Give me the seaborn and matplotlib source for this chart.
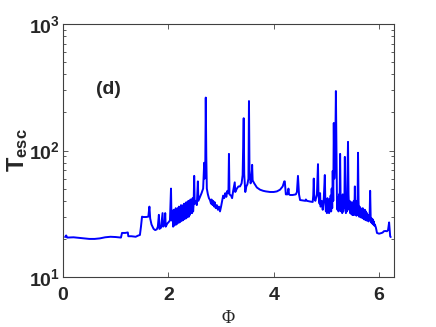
import numpy as np
import pandas as pd
import matplotlib
matplotlib.use('Agg')
import matplotlib.pyplot as plt
from matplotlib.ticker import FixedLocator, FixedFormatter, LogLocator, NullFormatter
import seaborn as sns

# values
phi = [0.04, 0.06, 0.08, 0.20, 0.35, 0.50, 0.60, 0.70, 0.80, 0.90, 1.00, 1.10,
       1.12, 1.18, 1.23, 1.24, 1.30, 1.38, 1.42, 1.46,
       1.48, 1.50, 1.52, 1.58, 1.62, 1.64, 1.655, 1.68, 1.72, 1.75, 1.78, 1.80,
       1.82, 1.83, 1.86, 1.89, 1.90, 1.93, 1.94, 1.95, 1.98, 2.00, 2.03, 2.05, 2.06,
       2.08, 2.09, 2.10, 2.11, 2.12, 2.13, 2.14, 2.15, 2.16, 2.17, 2.18, 2.19,
       2.20, 2.21, 2.22, 2.23, 2.24, 2.25, 2.26, 2.27, 2.28, 2.29, 2.30, 2.31,
       2.32, 2.33, 2.34, 2.35, 2.36, 2.37, 2.38, 2.39, 2.40, 2.41, 2.42, 2.43,
       2.44, 2.45, 2.46, 2.47, 2.48, 2.49, 2.50, 2.52, 2.54, 2.56, 2.57, 2.60,
       2.63, 2.66, 2.68, 2.69, 2.70, 2.71, 2.72, 2.73, 2.75, 2.77, 2.79, 2.81,
       2.82, 2.84, 2.85, 2.87, 2.88, 2.90, 2.92, 2.94, 2.96, 2.98, 3.00, 3.02,
       3.04, 3.06, 3.08, 3.10, 3.12, 3.14, 3.15, 3.16, 3.19, 3.21, 3.23, 3.26,
       3.27, 3.30, 3.33, 3.36, 3.39, 3.41, 3.43, 3.44, 3.46, 3.48, 3.50, 3.52,
       3.53, 3.54, 3.56, 3.58, 3.59, 3.60, 3.63, 3.68, 3.74, 3.80, 3.85, 3.93,
       4.00, 4.06, 4.12, 4.17, 4.20, 4.21, 4.22, 4.23, 4.26, 4.28, 4.29, 4.31,
       4.36, 4.42, 4.44, 4.46, 4.48, 4.50, 4.55, 4.60, 4.61, 4.63, 4.69, 4.74,
       4.75, 4.76, 4.77, 4.79, 4.82, 4.84, 4.85, 4.87, 4.88, 4.89, 4.91, 4.93,
       4.95, 4.97, 4.98, 4.99, 5.00, 5.01, 5.02, 5.03, 5.04, 5.05, 5.06, 5.07,
       5.08, 5.09, 5.10, 5.11, 5.12, 5.13, 5.14, 5.15, 5.17, 5.18, 5.19, 5.20,
       5.21, 5.22, 5.23, 5.24, 5.25, 5.26, 5.27, 5.28, 5.29, 5.30, 5.31, 5.32,
       5.33, 5.34, 5.35, 5.36, 5.37, 5.38, 5.39, 5.40, 5.41, 5.42, 5.43, 5.44,
       5.45, 5.46, 5.47, 5.48, 5.49, 5.50, 5.51, 5.52, 5.53, 5.54, 5.55, 5.56,
       5.57, 5.58, 5.59, 5.60, 5.61, 5.62, 5.63, 5.64, 5.65, 5.66, 5.67, 5.68,
       5.69, 5.70, 5.71, 5.72, 5.73, 5.74, 5.75, 5.76, 5.77, 5.78, 5.79, 5.80,
       5.82, 5.83, 5.84, 5.85, 5.86, 5.87, 5.88, 5.89, 5.90, 5.91, 5.92, 5.94,
       5.96, 6.00, 6.05, 6.07, 6.09, 6.12, 6.15, 6.17, 6.19, 6.20, 6.21, 6.22]

t_esc = [20.7, 21.3, 20.5, 20.6, 20.3, 20.0, 20.0, 20.2, 20.6, 20.8, 20.7, 20.5,
         22.3, 22.3, 22.5, 21.0, 21.0, 20.8, 21.2, 21.5,
         25.0, 30.0, 29.8, 29.8, 30.0, 36.0, 29.0, 26.0, 24.0, 23.5, 23.8, 25.0,
         31.0, 24.0, 24.5, 32.0, 25.0, 26.0, 32.0, 25.0, 26.5, 27.0, 28.0, 50.0, 28.0,
         33.0, 25.0, 34.0, 25.5, 33.0, 26.0, 35.0, 26.0, 34.0, 26.5, 35.0, 27.0,
         36.0, 27.0, 35.0, 27.5, 37.0, 28.0, 36.0, 28.0, 37.0, 28.5, 38.0, 29.0,
         37.0, 29.0, 39.0, 29.5, 38.0, 30.0, 40.0, 30.0, 39.0, 31.0, 41.0, 32.0,
         40.0, 32.0, 42.0, 33.0, 38.0, 63.0, 38.0, 40.0, 37.0, 57.0, 40.0, 43.0,
         46.0, 50.0, 80.0, 60.0, 70.0, 262.0, 90.0, 50.0, 45.0, 42.0, 40.6, 38.0,
         41.0, 37.0, 40.0, 36.0, 39.0, 35.0, 37.0, 34.0, 36.0, 33.0, 36.0, 40.0,
         44.0, 42.0, 46.0, 43.0, 48.0, 46.0, 94.0, 45.0, 44.0, 42.0, 48.0, 56.0,
         47.0, 50.0, 52.0, 52.0, 55.0, 64.0, 180.0, 65.0, 47.0, 52.0, 54.0, 60.0,
         246.0, 70.0, 55.0, 58.0, 77.0, 58.0, 55.0, 51.0, 49.0, 48.0, 47.5, 47.0,
         47.0, 47.5, 49.0, 52.0, 57.0, 57.0, 50.0, 45.0, 45.0, 50.0, 45.0, 44.5,
         44.5, 45.0, 47.0, 63.0, 45.0, 40.6, 40.3, 40.0, 41.0, 40.0, 39.5, 39.2,
         44.0, 60.0, 42.0, 40.0, 45.0, 78.0, 44.0, 38.0, 46.0, 36.0, 40.0, 34.0,
         42.0, 64.0, 38.0, 33.0, 40.0, 32.0, 42.0, 33.0, 38.0, 32.0, 41.0, 33.0,
         44.0, 33.0, 50.0, 35.0, 69.0, 40.0, 165.0, 60.0, 120.0, 295.0, 100.0, 40.0,
         34.0, 43.0, 33.0, 45.0, 35.0, 94.0, 40.0, 33.0, 42.0, 32.0, 45.0, 33.0,
         42.0, 35.0, 89.0, 40.0, 32.0, 40.0, 33.0, 60.0, 117.0, 45.0, 34.0, 40.0,
         32.0, 38.0, 31.5, 39.0, 31.0, 38.0, 31.0, 40.0, 31.0, 52.0, 32.0, 37.0,
         30.5, 40.0, 31.0, 96.0, 40.0, 30.0, 36.0, 30.0, 35.0, 29.5, 34.0, 29.5,
         35.0, 29.0, 33.0, 28.5, 34.0, 28.5, 33.0, 28.0, 32.0, 28.0, 31.0, 27.5,
         30.0, 48.0, 30.0, 27.0, 29.0, 26.5, 28.5, 26.0, 27.5, 25.5, 26.0, 24.5,
         22.3, 22.0, 22.3, 22.5, 23.0, 23.1, 23.0, 23.5, 27.0, 24.0, 21.0, 20.7]

x_ticks = [0, 2, 4, 6]
y_ticks = [10, 100, 1000]
y_tick_labels = [r'$\mathbf{10^{1}}$', r'$\mathbf{10^{2}}$', r'$\mathbf{10^{3}}$']

df = pd.DataFrame({'phi': phi, 'T': t_esc})

sns.set_style('ticks')
plt.rcParams['font.family'] = ['Liberation Sans', 'DejaVu Sans']
plt.rcParams['mathtext.fontset'] = 'custom'
plt.rcParams['mathtext.rm'] = 'Liberation Sans'
plt.rcParams['mathtext.bf'] = 'Liberation Sans:bold'

fig = plt.figure(figsize=(4.36, 3.27), dpi=100)
ax = fig.add_axes([0.1445, 0.1529, 0.7592, 0.7737])

sns.lineplot(data=df, x='phi', y='T', color='#0000ff', lw=1.4,
             estimator=None, ax=ax)

ax.set_yscale('log')
ax.set_xlim(0, 2 * np.pi)
ax.set_ylim(10, 1000)

ax.xaxis.set_major_locator(FixedLocator(x_ticks))
ax.set_xticklabels([str(v) for v in x_ticks], fontweight='bold', fontsize=14)
ax.yaxis.set_major_locator(FixedLocator(y_ticks))
ax.yaxis.set_major_formatter(FixedFormatter(y_tick_labels))
ax.yaxis.set_minor_locator(LogLocator(base=10, subs=np.arange(2, 10)))
ax.yaxis.set_minor_formatter(NullFormatter())

frame = '#404040'
for s in ax.spines.values():
    s.set_visible(True)
    s.set_color(frame)
    s.set_linewidth(0.8)
ax.tick_params(which='both', direction='in', top=True, right=True, color=frame)
ax.tick_params(which='major', length=3.5, width=0.6)
ax.tick_params(which='minor', length=2, width=0.6)
ax.tick_params(axis='y', labelsize=14, pad=2)
ax.tick_params(axis='x', pad=7)

ax.set_xlabel('\u03a6', family=['Liberation Serif', 'DejaVu Serif'], fontsize=13)
ax.set_ylabel(r'$\mathbf{T_{esc}}$', fontsize=17)
ax.yaxis.set_label_coords(-0.10, 0.5)
ax.xaxis.set_label_coords(0.5, -0.13)

ax.text(0.10, 0.74, '(d)', transform=ax.transAxes, fontsize=14,
        fontweight='bold', va='center', ha='left')

fig.savefig('out.png', dpi=100, facecolor='white')
